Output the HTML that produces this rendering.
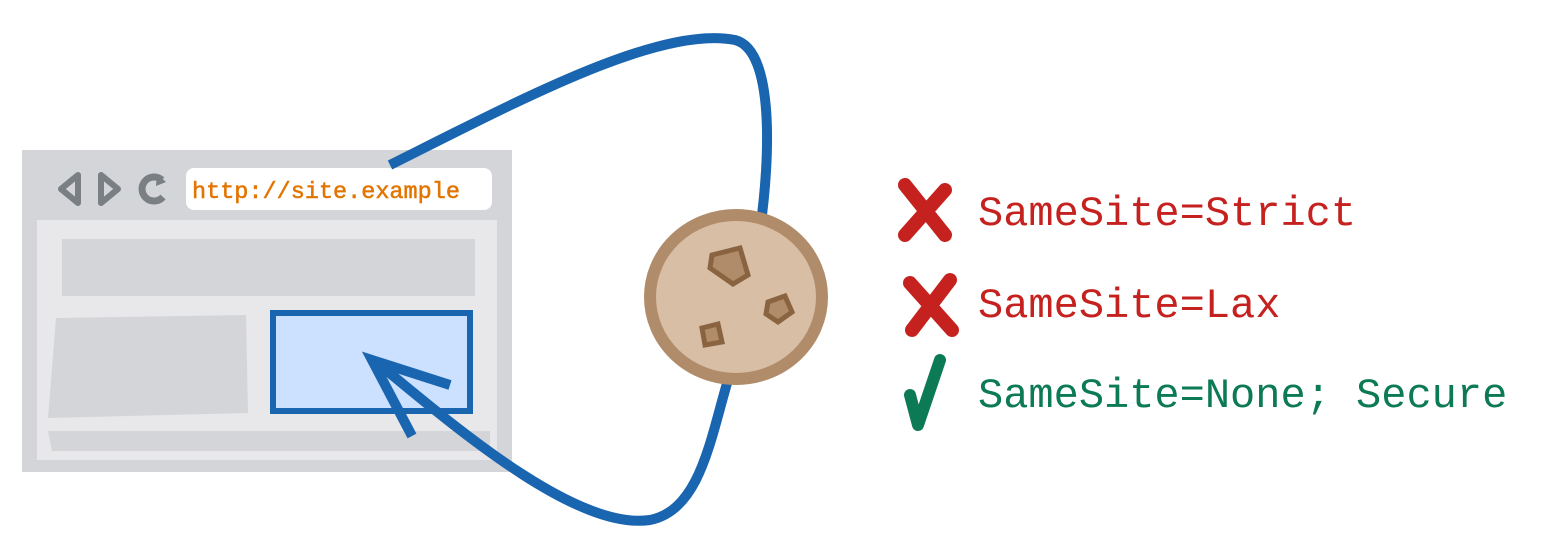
<!DOCTYPE html>
<html><head><meta charset="utf-8"><style>
html,body{margin:0;padding:0;background:#fff;width:1545px;height:550px;overflow:hidden}
svg{display:block}
text{font-family:"Liberation Mono","DejaVu Sans Mono",monospace}
</style></head><body>
<svg width="1545" height="550" viewBox="0 0 1545 550">
<g>
  <rect x="22" y="150" width="490" height="322" fill="#d4d5d8"/>
  <rect x="37" y="220" width="460" height="240" fill="#e8e8ea"/>
  <path d="M78,175 L61,189 L78,203 Z" fill="none" stroke="#7a7f83" stroke-width="6" stroke-linejoin="round"/>
  <path d="M101,175 L118,189 L101,203 Z" fill="none" stroke="#7a7f83" stroke-width="6" stroke-linejoin="round"/>
  <path d="M162,180 A12,12 0 1 0 163,197" fill="none" stroke="#7a7f83" stroke-width="7"/>
  <path d="M157,174 L166,182 L156,186 Z" fill="#7a7f83"/>
  <rect x="186" y="168" width="306" height="42" rx="8" fill="#fff"/>
  <text x="192" y="198" font-size="23.5" fill="#e37400" stroke="#e37400" stroke-width="0.5">http://site.example</text>
  <rect x="62" y="239" width="413" height="57" fill="#d4d5d8"/>
  <path d="M56,318 L246,315 L248,413 L48,418 Z" fill="#d4d5d8"/>
  <path d="M48,431 L490,431 L490,451 L52,451 Z" fill="#d4d5d8"/>
  <rect x="273" y="313" width="197" height="98" fill="#cce0ff" stroke="#1a65b0" stroke-width="6"/>
</g>
<path d="M390,165 C520,100 660,25 735,40 C775,50 770,160 760,230" fill="none" stroke="#1a65b0" stroke-width="10"/>
<path d="M728,380 C710,440 700,510 650,520 C580,530 470,440 380,365" fill="none" stroke="#1a65b0" stroke-width="10"/>
<path d="M450,385 L372,360 L412,436" fill="none" stroke="#1a65b0" stroke-width="10"/>
<g>
  <ellipse cx="736" cy="297" rx="86" ry="82" fill="#d8bea4" stroke="#b08c6a" stroke-width="12"/>
  <path d="M712,255 L740,248 L748,275 L733,284 L710,268 Z" fill="#b08c6a" stroke="#8a6440" stroke-width="5"/>
  <path d="M768,302 L785,296 L792,312 L778,322 L766,314 Z" fill="#b08c6a" stroke="#8a6440" stroke-width="5"/>
  <path d="M702,328 L718,324 L722,342 L705,345 Z" fill="#b08c6a" stroke="#8a6440" stroke-width="5"/>
</g>
<g>
  <path d="M905,185 L945,235 M945,190 L905,235" stroke="#c5221f" stroke-width="14" stroke-linecap="round"/>
  <text x="978" y="225" font-size="42" fill="#c5221f">SameSite=Strict</text>
</g>
<g>
  <path d="M910,283 L952,330 M950,280 L912,330" stroke="#c5221f" stroke-width="14" stroke-linecap="round"/>
  <text x="978" y="317" font-size="42" fill="#c5221f">SameSite=Lax</text>
</g>
<g>
  <path d="M910,395 L918,425 L940,360" fill="none" stroke="#0b7a55" stroke-width="12" stroke-linecap="round" stroke-linejoin="round"/>
  <text x="978" y="407" font-size="42" fill="#0b7a55">SameSite=None; Secure</text>
</g>
</svg>
</body></html>
